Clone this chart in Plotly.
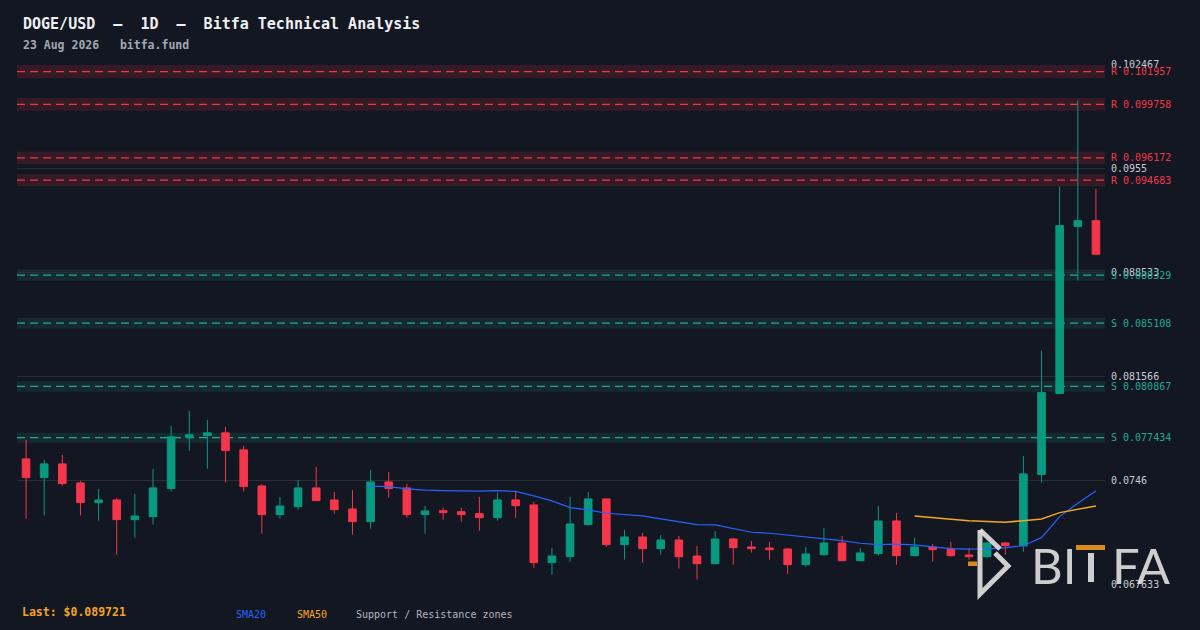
import pandas as pd
import plotly.graph_objects as go

# daily candles, last one 23 Aug 2026
dates = pd.date_range("2026-06-25", "2026-08-23", freq="D")

opens = [0.076014, 0.074760, 0.075679, 0.074405, 0.073084, 0.073265, 0.071944, 0.072146, 0.074023, 0.077442,
         0.077577, 0.077758, 0.076618, 0.074204, 0.072280, 0.072816, 0.074070, 0.073265, 0.072662, 0.071810,
         0.074472, 0.074070, 0.072280, 0.072548, 0.072481, 0.072347, 0.072078, 0.073265, 0.072930, 0.069061,
         0.069463, 0.071609, 0.073332, 0.070268, 0.070784, 0.070000, 0.070583, 0.069510, 0.068994, 0.070650,
         0.070114, 0.070047, 0.069980, 0.068927, 0.069598, 0.070382, 0.069195, 0.069665, 0.071857, 0.069531,
         0.070114, 0.069980, 0.069577, 0.069463, 0.070382, 0.070181, 0.074962, 0.080393, 0.091590, 0.091972]
highs = [0.077288, 0.075947, 0.076282, 0.074539, 0.074003, 0.073399, 0.073668, 0.075344, 0.078227, 0.079233,
         0.078629, 0.078160, 0.076886, 0.074338, 0.073466, 0.074606, 0.075478, 0.073802, 0.073936, 0.075277,
         0.075143, 0.074338, 0.072863, 0.072749, 0.072749, 0.073466, 0.073755, 0.073835, 0.073131, 0.070047,
         0.073466, 0.073802, 0.073360, 0.071254, 0.071053, 0.070918, 0.070851, 0.070181, 0.071187, 0.070717,
         0.070516, 0.070449, 0.070047, 0.070114, 0.071388, 0.070851, 0.070047, 0.072863, 0.072394, 0.070717,
         0.070315, 0.070449, 0.070047, 0.070469, 0.070449, 0.076215, 0.083256, 0.094252, 0.100018, 0.094118]
lows = [0.072011, 0.072213, 0.074224, 0.072213, 0.071877, 0.069598, 0.070737, 0.071609, 0.073822, 0.076571,
        0.075364, 0.074425, 0.073822, 0.071006, 0.072011, 0.072615, 0.073198, 0.072347, 0.070939, 0.071341,
        0.073419, 0.072078, 0.071006, 0.071944, 0.071810, 0.071207, 0.071877, 0.072078, 0.068726, 0.068257,
        0.069128, 0.071542, 0.070134, 0.069262, 0.069061, 0.069598, 0.068659, 0.067921, 0.068960, 0.068927,
        0.069732, 0.069262, 0.068324, 0.068793, 0.069531, 0.069175, 0.069128, 0.069531, 0.068927, 0.069500,
        0.069128, 0.069463, 0.069262, 0.069396, 0.069598, 0.069799, 0.074425, 0.080373, 0.087969, 0.089646]
closes = [0.074760, 0.075679, 0.074358, 0.073084, 0.073265, 0.071944, 0.072192, 0.074070, 0.077489, 0.077623,
          0.077758, 0.076571, 0.074157, 0.072280, 0.072863, 0.074070, 0.073218, 0.072615, 0.071810, 0.074472,
          0.074023, 0.072280, 0.072528, 0.072414, 0.072280, 0.072078, 0.073265, 0.072883, 0.069061, 0.069510,
          0.071656, 0.073332, 0.070268, 0.070784, 0.070000, 0.070583, 0.069463, 0.068994, 0.070650, 0.070067,
          0.070000, 0.069933, 0.068927, 0.069645, 0.070382, 0.069195, 0.069712, 0.071857, 0.069531, 0.070114,
          0.069933, 0.069531, 0.069463, 0.070382, 0.070201, 0.075009, 0.080460, 0.091637, 0.091972, 0.089721]

# moving averages as drawn (SMA20 from the 20th candle, SMA50 from the 50th)
sma20 = [0.074184, 0.074157, 0.074003, 0.073916, 0.073889, 0.073849, 0.073849, 0.073889, 0.073835, 0.073533,
         0.073198, 0.072749, 0.072595, 0.072373, 0.072306, 0.072192, 0.071991, 0.071810, 0.071609, 0.071589,
         0.071321, 0.071099, 0.071032, 0.070918, 0.070804, 0.070697, 0.070536, 0.070362, 0.070268, 0.070302,
         0.070248, 0.070114, 0.070000, 0.069966, 0.069980, 0.070047, 0.070214, 0.070737, 0.072146, 0.073044,
         0.073869]
sma50 = [0.072192, 0.072105, 0.071971, 0.071877, 0.071810, 0.071770, 0.071877, 0.071991, 0.072414, 0.072662,
         0.072863]

resistance = [0.101957, 0.099758, 0.096172, 0.094683]
support = [0.088329, 0.085108, 0.080867, 0.077434]

y_ticks = [0.067633, 0.0746, 0.081566, 0.088533, 0.0955, 0.102467]
y_ticktext = ["0.067633", "0.0746", "0.081566", "0.088533", "0.0955", "0.102467"]

last_price = "0.089721"

BG = "#131722"
GREEN = "#089981"
RED = "#f5364a"
TEAL = "#22ab94"
BLUE = "#2962ff"
ORANGE = "#f5a524"
MONO = "DejaVu Sans Mono"

W, H = 1200, 630
ML, MR, MT, MB = 17, 95, 64, 46


def px(x):
    return (x - ML) / (W - ML - MR)


def py(y):
    return (H - MB - y) / (H - MT - MB)


fig = go.Figure()

fig.add_trace(go.Candlestick(
    x=dates, open=opens, high=highs, low=lows, close=closes,
    increasing=dict(line=dict(color=GREEN, width=1), fillcolor=GREEN),
    decreasing=dict(line=dict(color=RED, width=1), fillcolor=RED),
    whiskerwidth=0, showlegend=False, hoverinfo="skip",
))
fig.add_trace(go.Scatter(x=dates[19:], y=sma20, mode="lines",
                         line=dict(color=BLUE, width=1.2), showlegend=False, hoverinfo="skip"))
fig.add_trace(go.Scatter(x=dates[49:], y=sma50, mode="lines",
                         line=dict(color=ORANGE, width=1.5), showlegend=False, hoverinfo="skip"))

shapes = []
annotations = []

# support / resistance zones
for lvl in resistance + support:
    is_r = lvl in resistance
    col = RED if is_r else TEAL
    band = "rgba(242,54,69,0.15)" if is_r else "rgba(34,171,148,0.13)"
    hw = lvl * 0.0043
    shapes.append(dict(type="rect", xref="paper", yref="y", x0=0, x1=1, y0=lvl - hw, y1=lvl + hw,
                       fillcolor=band, line=dict(width=0), layer="below"))
    shapes.append(dict(type="line", xref="paper", yref="y", x0=0, x1=1, y0=lvl, y1=lvl,
                       line=dict(color=col, width=1.2, dash="8px,5px"), layer="below"))
    annotations.append(dict(xref="paper", yref="y", x=1, y=lvl, xanchor="left", yanchor="middle",
                            xshift=4, showarrow=False, text=("R " if is_r else "S ") + f"{lvl:.6f}",
                            font=dict(family=MONO, size=10, color=col)))

# titles
annotations.append(dict(xref="paper", yref="paper", x=px(21), y=py(24), xanchor="left", yanchor="middle",
                        showarrow=False, text="<b>DOGE/USD  —  1D  —  Bitfa Technical Analysis</b>",
                        font=dict(family=MONO, size=15, color="#eef0f3")))
annotations.append(dict(xref="paper", yref="paper", x=px(21), y=py(45), xanchor="left", yanchor="middle",
                        showarrow=False, text="<b>23 Aug 2026   bitfa.fund</b>",
                        font=dict(family=MONO, size=11.5, color="#a3a7b0")))

# footer
annotations.append(dict(xref="paper", yref="paper", x=px(20), y=py(612), xanchor="left", yanchor="middle",
                        showarrow=False, text=f"<b>Last: ${last_price}</b>",
                        font=dict(family=MONO, size=11.5, color=ORANGE)))
for label, x0, col in [("SMA20", 234, BLUE), ("SMA50", 295, ORANGE),
                       ("Support / Resistance zones", 354, "#b2b5be")]:
    annotations.append(dict(xref="paper", yref="paper", x=px(x0), y=py(614), xanchor="left",
                            yanchor="middle", showarrow=False, text=label,
                            font=dict(family=MONO, size=10, color=col)))

# BITFA watermark
LOGO = "rgba(222,222,222,0.92)"
tri = "M {},{} L {},{} L {},{} L {},{}".format(px(980), py(530), px(980), py(594), px(1008), py(566),
                                                 px(995), py(553))
shapes.append(dict(type="path", xref="paper", yref="paper", path=tri, layer="above",
                   line=dict(color=LOGO, width=5)))
shapes.append(dict(type="line", xref="paper", yref="paper", x0=px(980), y0=py(530), x1=px(1000), y1=py(549),
                   layer="above", line=dict(color=LOGO, width=5)))
shapes.append(dict(type="rect", xref="paper", yref="paper", x0=px(968), x1=px(977), y0=py(566), y1=py(561.5),
                   layer="above", fillcolor="#d98c1c", line=dict(width=0)))
shapes.append(dict(type="rect", xref="paper", yref="paper", x0=px(1076), x1=px(1105), y0=py(550), y1=py(545),
                   layer="above", fillcolor="#d98c1c", line=dict(width=0)))
shapes.append(dict(type="rect", xref="paper", yref="paper", x0=px(1088), x1=px(1094), y0=py(582), y1=py(553),
                   layer="above", fillcolor=LOGO, line=dict(width=0)))
annotations.append(dict(xref="paper", yref="paper", x=px(1029), y=py(565), xanchor="left", yanchor="middle",
                        showarrow=False, text="BI", font=dict(family="Lato", size=49, color=LOGO)))
annotations.append(dict(xref="paper", yref="paper", x=px(1110), y=py(565), xanchor="left", yanchor="middle",
                        showarrow=False, text="FA", font=dict(family="Lato", size=49, color=LOGO)))

fig.update_layout(
    width=W, height=H, autosize=False,
    margin=dict(l=ML, r=MR, t=MT, b=MB),
    paper_bgcolor=BG, plot_bgcolor=BG,
    boxgap=0.4,
    shapes=shapes, annotations=annotations,
    xaxis=dict(range=[dates[0] - pd.Timedelta(hours=12), dates[-1] + pd.Timedelta(hours=12)],
               showgrid=False, showticklabels=False, zeroline=False, showline=False,
               rangeslider=dict(visible=False)),
    yaxis=dict(side="right", range=[y_ticks[0], y_ticks[-1]], tickvals=y_ticks, ticktext=y_ticktext,
               showgrid=True, gridcolor="#2a2e39", gridwidth=1, zeroline=False, showline=False,
               ticks="", ticklabelstandoff=5,
               tickfont=dict(family=MONO, size=10, color="#c8cbd2")),
)

# page margin off so the 1200x630 figure fills the window
fig.write_html("out.html", config={"displayModeBar": False},
               post_script="document.body.style.margin='0';document.body.style.background='#131722';")
